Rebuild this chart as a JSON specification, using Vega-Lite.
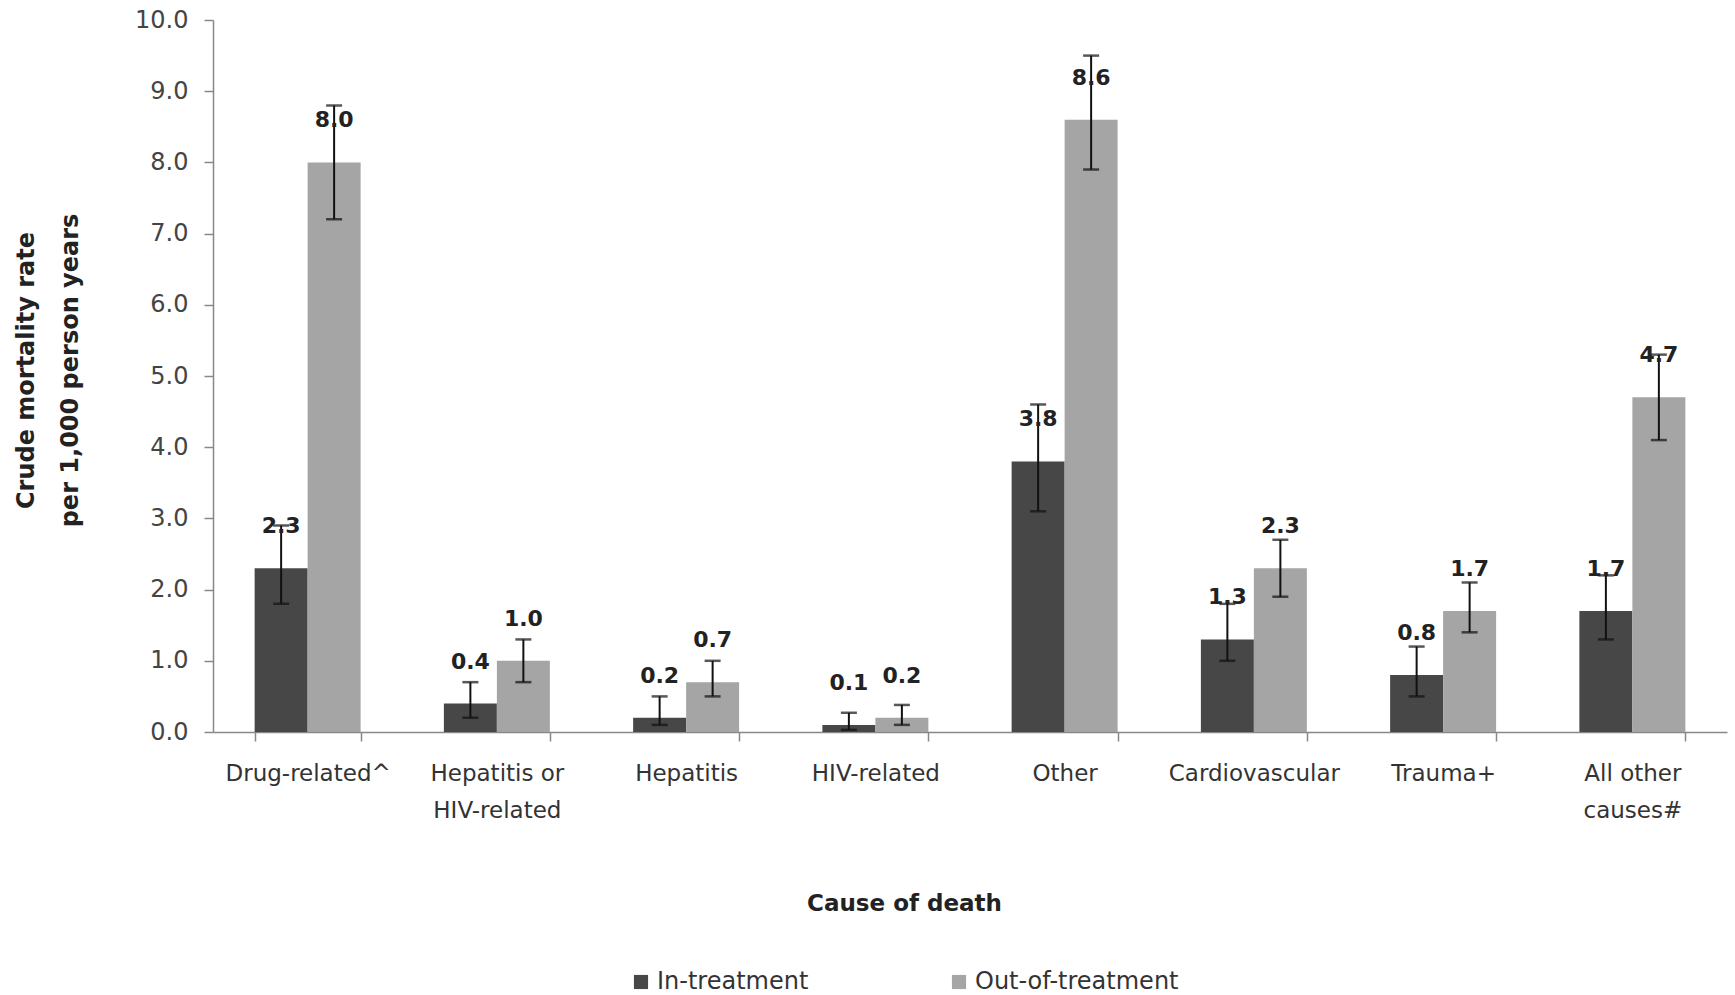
{
  "$schema": "https://vega.github.io/schema/vega-lite/v6.json",
  "width": 1514,
  "height": 712,
  "autosize": {"type": "none"},
  "padding": {"left": 213, "top": 20, "right": 8, "bottom": 263},
  "background": "white",
  "config": {"view": {"stroke": null}, "font": "DejaVu Sans"},
  "data": {
    "values": [
      {"cause": "Drug-related^", "group": "In-treatment", "rate": 2.3, "lo": 1.8, "hi": 2.9},
      {"cause": "Drug-related^", "group": "Out-of-treatment", "rate": 8.0, "lo": 7.2, "hi": 8.8},
      {"cause": "Hepatitis or HIV-related", "group": "In-treatment", "rate": 0.4, "lo": 0.2, "hi": 0.7},
      {"cause": "Hepatitis or HIV-related", "group": "Out-of-treatment", "rate": 1.0, "lo": 0.7, "hi": 1.3},
      {"cause": "Hepatitis", "group": "In-treatment", "rate": 0.2, "lo": 0.1, "hi": 0.5},
      {"cause": "Hepatitis", "group": "Out-of-treatment", "rate": 0.7, "lo": 0.5, "hi": 1.0},
      {"cause": "HIV-related", "group": "In-treatment", "rate": 0.1, "lo": 0.03, "hi": 0.27},
      {"cause": "HIV-related", "group": "Out-of-treatment", "rate": 0.2, "lo": 0.1, "hi": 0.38},
      {"cause": "Other", "group": "In-treatment", "rate": 3.8, "lo": 3.1, "hi": 4.6},
      {"cause": "Other", "group": "Out-of-treatment", "rate": 8.6, "lo": 7.9, "hi": 9.5},
      {"cause": "Cardiovascular", "group": "In-treatment", "rate": 1.3, "lo": 1.0, "hi": 1.8},
      {"cause": "Cardiovascular", "group": "Out-of-treatment", "rate": 2.3, "lo": 1.9, "hi": 2.7},
      {"cause": "Trauma+", "group": "In-treatment", "rate": 0.8, "lo": 0.5, "hi": 1.2},
      {"cause": "Trauma+", "group": "Out-of-treatment", "rate": 1.7, "lo": 1.4, "hi": 2.1},
      {"cause": "All other causes#", "group": "In-treatment", "rate": 1.7, "lo": 1.3, "hi": 2.2},
      {"cause": "All other causes#", "group": "Out-of-treatment", "rate": 4.7, "lo": 4.1, "hi": 5.3}
    ]
  },
  "encoding": {
    "x": {
      "field": "cause",
      "type": "nominal",
      "sort": null,
      "scale": {"paddingInner": 0.44, "paddingOuter": 0.22},
      "axis": {
        "title": "Cause of death",
        "titleFontSize": 23,
        "titleFontWeight": "bold",
        "titleColor": "#222",
        "titleX": 691,
        "titleY": 171,
        "titleAlign": "center",
        "titleBaseline": "middle",
        "labelAngle": 0,
        "labelFontSize": 23,
        "labelColor": "#333",
        "labelPadding": 21,
        "labelLineHeight": 37,
        "labelBaseline": "top",
        "labelLimit": 0,
        "labelExpr": "datum.label == 'Hepatitis or HIV-related' ? ['Hepatitis or', 'HIV-related'] : datum.label == 'All other causes#' ? ['All other', 'causes#'] : datum.label",
        "tickBand": "extent",
        "tickSize": 9,
        "tickColor": "#888",
        "domainColor": "#888",
        "domainWidth": 1.5,
        "tickWidth": 1.5
      }
    },
    "xOffset": {
      "field": "group",
      "type": "nominal",
      "sort": ["In-treatment", "Out-of-treatment"],
      "scale": {"paddingInner": 0, "paddingOuter": 0}
    }
  },
  "layer": [
    {
      "mark": {"type": "bar"},
      "encoding": {
        "y": {
          "field": "rate",
          "type": "quantitative",
          "title": ["Crude mortality rate", "per 1,000  person years"],
          "scale": {"domain": [0, 10], "nice": false},
          "axis": {
            "titleFontSize": 24,
            "titleFontWeight": "bold",
            "titleColor": "#222",
            "titleLineHeight": 44,
            "titleX": -187,
            "titleY": 350,
            "titleAlign": "center",
            "titleBaseline": "middle",
            "titleAngle": -90,
            "values": [0, 1, 2, 3, 4, 5, 6, 7, 8, 9, 10],
            "format": ".1f",
            "labelFontSize": 24,
            "labelColor": "#444",
            "labelPadding": 16,
            "tickSize": 9,
            "tickColor": "#888",
            "domainColor": "#888",
            "domainWidth": 1.5,
            "tickWidth": 1.5,
            "grid": false
          }
        },
        "color": {
          "field": "group",
          "type": "nominal",
          "scale": {"domain": ["In-treatment", "Out-of-treatment"], "range": ["#474747", "#a5a5a5"]},
          "legend": {
            "title": null,
            "orient": "none",
            "direction": "horizontal",
            "legendX": 416,
            "legendY": 950,
            "symbolType": "square",
            "symbolSize": 200,
            "symbolStrokeWidth": 0,
            "labelFontSize": 24,
            "labelColor": "#333",
            "labelOffset": 4,
            "labelLimit": 0,
            "columnPadding": 138
          }
        }
      }
    },
    {
      "mark": {"type": "rule", "color": "#111", "strokeWidth": 2},
      "encoding": {
        "y": {"field": "lo", "type": "quantitative", "title": ["Crude mortality rate", "per 1,000  person years"]},
        "y2": {"field": "hi"}
      }
    },
    {
      "mark": {"type": "tick", "color": "#111", "thickness": 2.5, "size": 16},
      "encoding": {"y": {"field": "lo", "type": "quantitative", "title": ["Crude mortality rate", "per 1,000  person years"]}}
    },
    {
      "mark": {"type": "tick", "color": "#111", "thickness": 2.5, "size": 16},
      "encoding": {"y": {"field": "hi", "type": "quantitative", "title": ["Crude mortality rate", "per 1,000  person years"]}}
    },
    {
      "mark": {"type": "text", "dy": -42, "baseline": "middle", "fontWeight": "bold", "fontSize": 22, "color": "#222"},
      "encoding": {
        "y": {"field": "rate", "type": "quantitative", "title": ["Crude mortality rate", "per 1,000  person years"]},
        "text": {"field": "rate", "type": "quantitative", "format": ".1f"}
      }
    }
  ]
}
